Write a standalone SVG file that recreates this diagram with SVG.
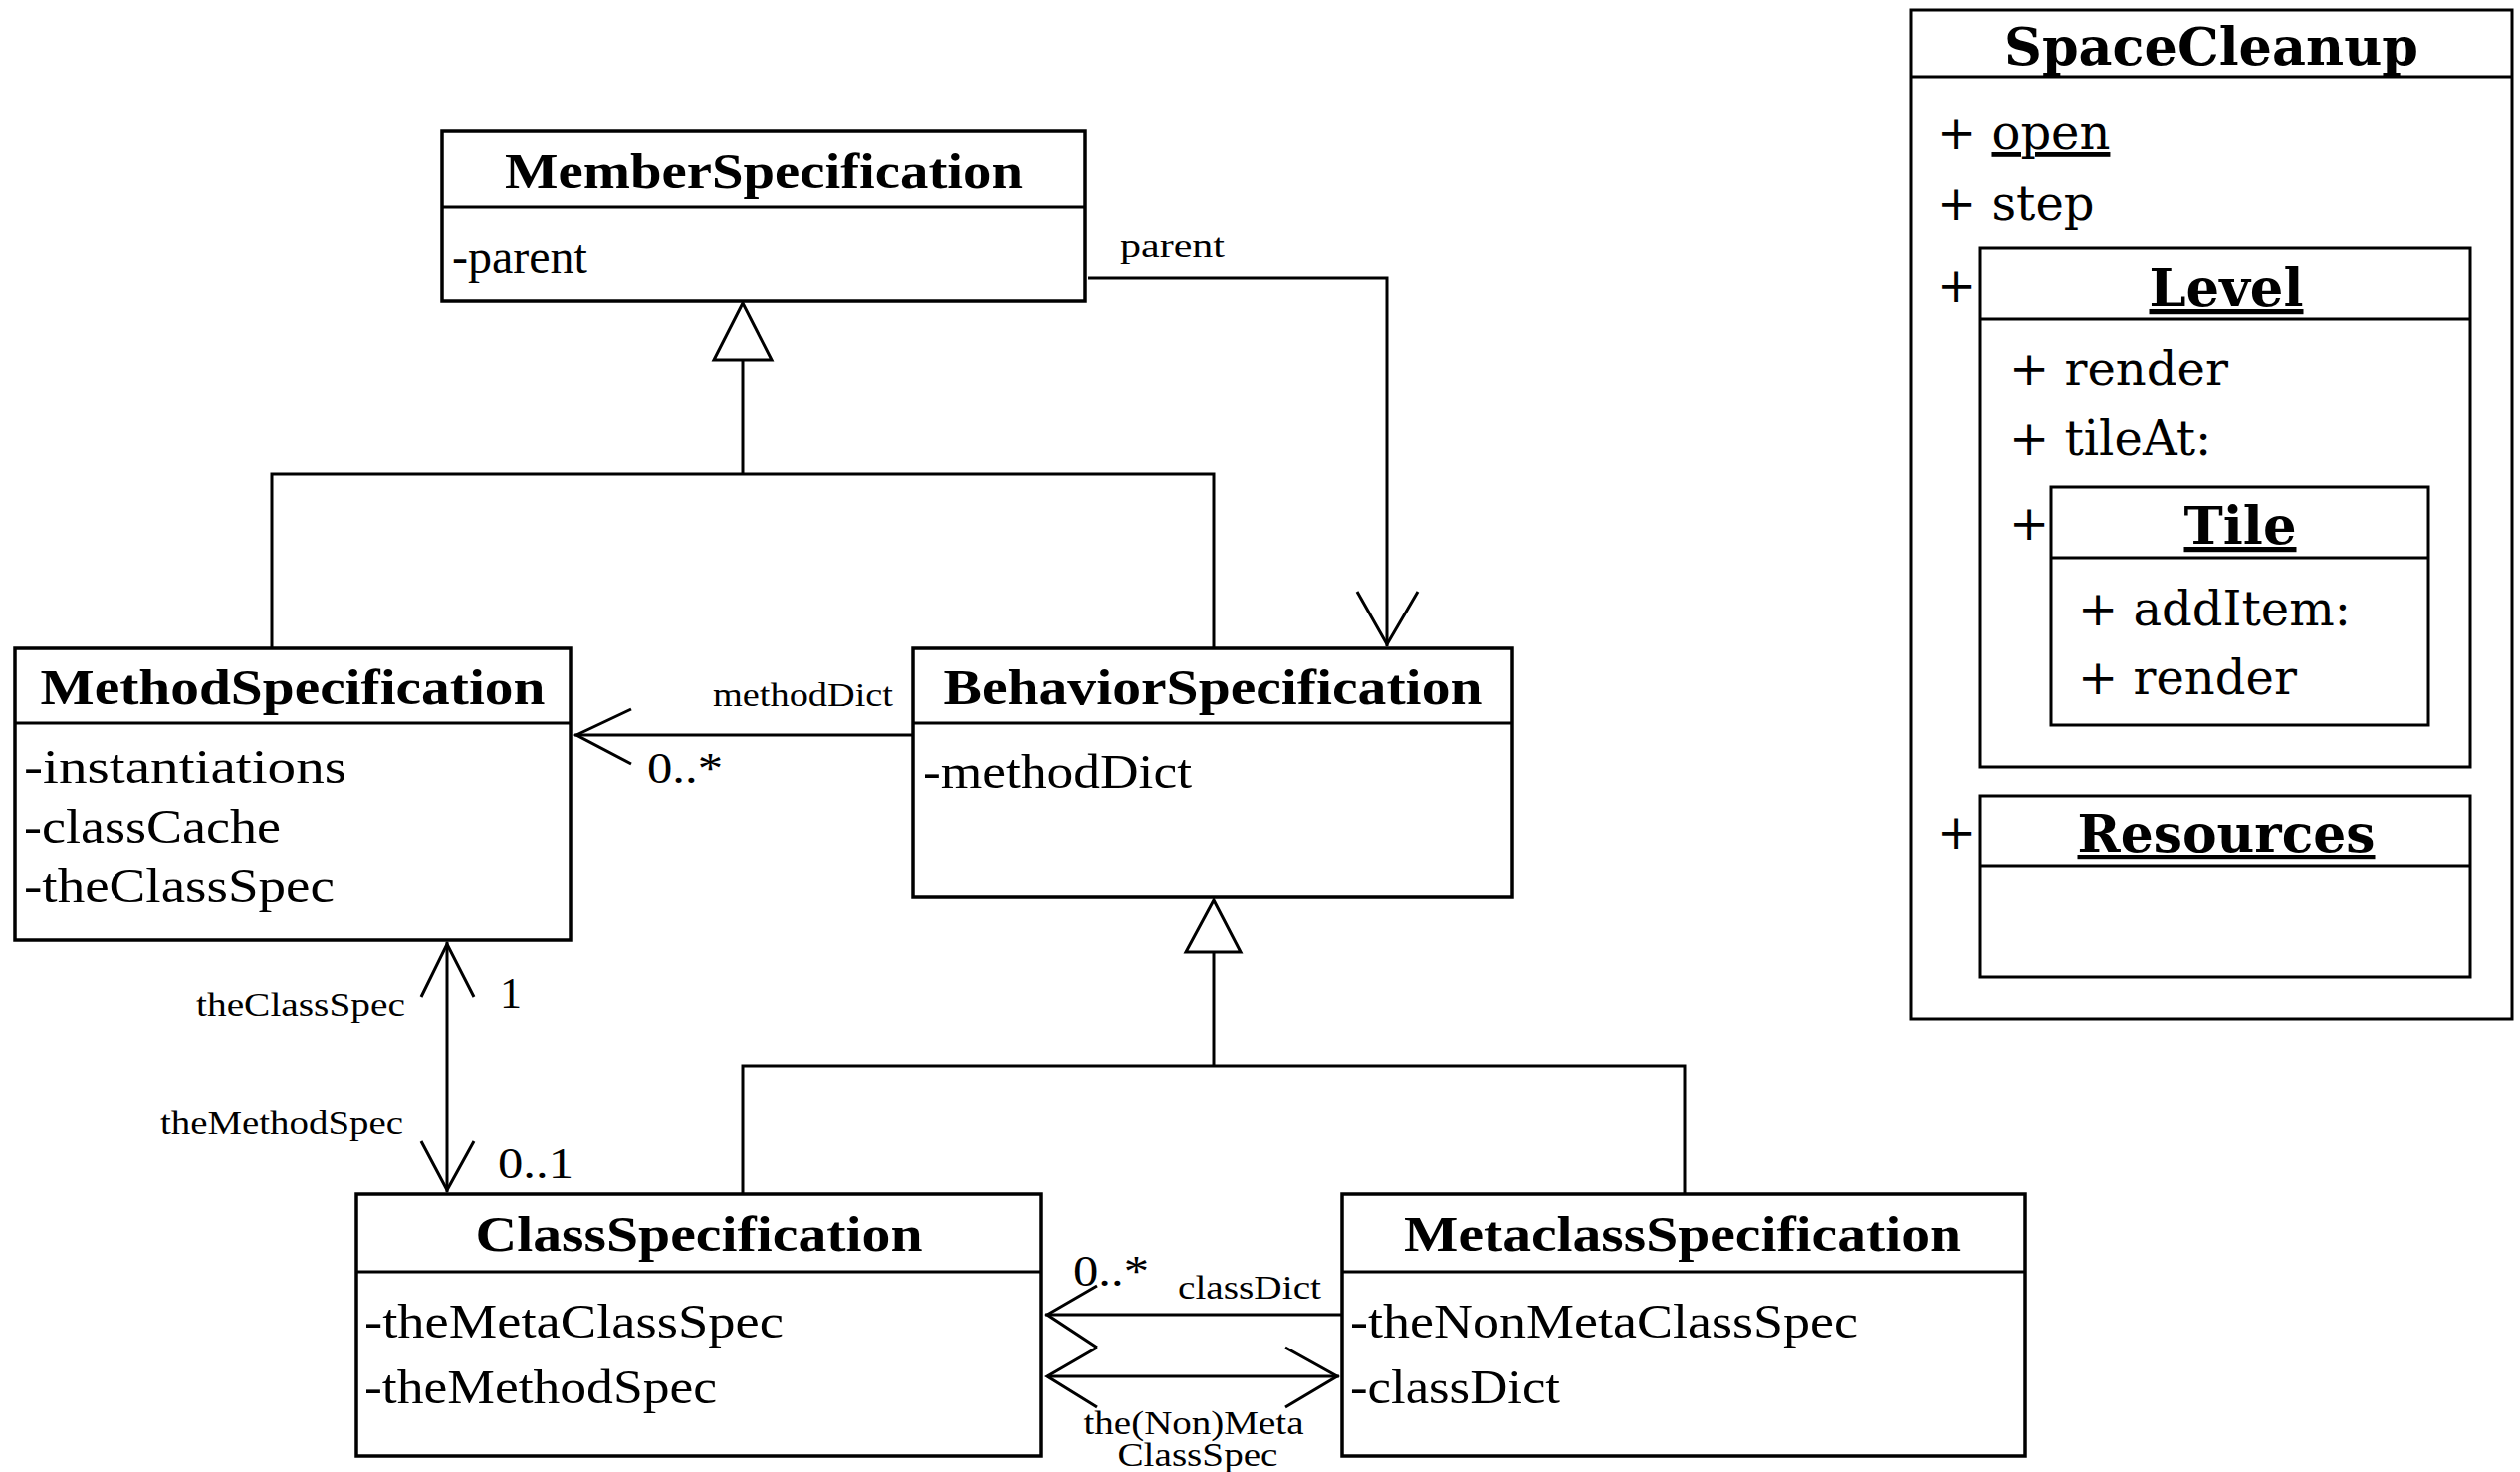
<svg xmlns="http://www.w3.org/2000/svg" width="2531" height="1478" viewBox="0 0 2531 1478">
<style>
.box{fill:#fff;stroke:#000;stroke-width:3.5}
.sep{stroke:#000;stroke-width:3}
.ln{fill:none;stroke:#000;stroke-width:3}
.tri{fill:#fff;stroke:#000;stroke-width:3}
.t{font-family:"Liberation Serif",serif;font-weight:bold;font-size:50px;text-anchor:middle}
.a{font-family:"Liberation Serif",serif;font-size:48px}
.l{font-family:"Liberation Serif",serif;font-size:34px}
.m{font-family:"Liberation Serif",serif;font-size:44px}
.st{font-family:"DejaVu Serif",serif;font-weight:bold;font-size:52px;text-anchor:middle}
.sa{font-family:"DejaVu Serif",serif;font-size:48px}
.nb{fill:#fff;stroke:#000;stroke-width:3}
</style>
<rect width="2531" height="1478" fill="#fff"/>
<g id="connectors">
  <!-- generalization to MemberSpecification -->
  <polyline class="ln" points="273,651 273,476 1219,476 1219,651"/>
  <line class="ln" x1="746" y1="476" x2="746" y2="361"/>
  <polygon class="tri" points="746,304 717,361 775,361"/>
  <!-- parent association -->
  <polyline class="ln" points="1093,279 1393,279 1393,649"/>
  <polyline class="ln" points="1363,594 1393,647 1424,594"/>
  <text class="l" x="1125" y="258" textLength="105" lengthAdjust="spacingAndGlyphs">parent</text>
  <!-- methodDict association -->
  <line class="ln" x1="917" y1="738" x2="577" y2="738"/>
  <polyline class="ln" points="634,712 579,738 634,767"/>
  <text class="l" x="897" y="709" text-anchor="end" textLength="181" lengthAdjust="spacingAndGlyphs">methodDict</text>
  <text class="m" x="650" y="786" textLength="76" lengthAdjust="spacingAndGlyphs">0..*</text>
  <!-- generalization to BehaviorSpecification -->
  <polyline class="ln" points="746,1199 746,1070 1692,1070 1692,1199"/>
  <line class="ln" x1="1219" y1="1070" x2="1219" y2="956"/>
  <polygon class="tri" points="1219,904 1191,956 1246,956"/>
  <!-- theClassSpec / theMethodSpec association -->
  <line class="ln" x1="449" y1="946" x2="449" y2="1197"/>
  <polyline class="ln" points="423,1001 449,948 476,1001"/>
  <polyline class="ln" points="423,1146 449,1195 476,1146"/>
  <text class="l" x="407" y="1020" text-anchor="end" textLength="210" lengthAdjust="spacingAndGlyphs">theClassSpec</text>
  <text class="m" x="502" y="1012">1</text>
  <text class="l" x="405" y="1139" text-anchor="end" textLength="244" lengthAdjust="spacingAndGlyphs">theMethodSpec</text>
  <text class="m" x="500" y="1183" textLength="76" lengthAdjust="spacingAndGlyphs">0..1</text>
  <!-- classDict association -->
  <line class="ln" x1="1348" y1="1320" x2="1050" y2="1320"/>
  <polyline class="ln" points="1102,1291 1052,1320 1102,1353"/>
  <text class="m" x="1078" y="1291" textLength="76" lengthAdjust="spacingAndGlyphs">0..*</text>
  <text class="l" x="1183" y="1304" textLength="144" lengthAdjust="spacingAndGlyphs">classDict</text>
  <!-- the(Non)MetaClassSpec association -->
  <line class="ln" x1="1052" y1="1382" x2="1345" y2="1382"/>
  <polyline class="ln" points="1102,1353 1052,1382 1102,1413"/>
  <polyline class="ln" points="1291,1353 1343,1382 1291,1413"/>
  <text class="l" x="1199" y="1440" text-anchor="middle" textLength="221" lengthAdjust="spacingAndGlyphs">the(Non)Meta</text>
  <text class="l" x="1203" y="1472" text-anchor="middle" textLength="161" lengthAdjust="spacingAndGlyphs">ClassSpec</text>
</g>
<g id="MemberSpecification">
  <rect class="box" x="444" y="132" width="646" height="170"/>
  <line class="sep" x1="444" y1="208" x2="1090" y2="208"/>
  <text class="t" x="767" y="189" textLength="520" lengthAdjust="spacingAndGlyphs">MemberSpecification</text>
  <text class="a" x="454" y="274">-parent</text>
</g>
<g id="MethodSpecification">
  <rect class="box" x="15" y="651" width="558" height="293"/>
  <line class="sep" x1="15" y1="726" x2="573" y2="726"/>
  <text class="t" x="294" y="707" textLength="507" lengthAdjust="spacingAndGlyphs">MethodSpecification</text>
  <text class="a" x="24" y="786" textLength="324" lengthAdjust="spacingAndGlyphs">-instantiations</text>
  <text class="a" x="24" y="846" textLength="258" lengthAdjust="spacingAndGlyphs">-classCache</text>
  <text class="a" x="24" y="906" textLength="312" lengthAdjust="spacingAndGlyphs">-theClassSpec</text>
</g>
<g id="BehaviorSpecification">
  <rect class="box" x="917" y="651" width="602" height="250"/>
  <line class="sep" x1="917" y1="726" x2="1519" y2="726"/>
  <text class="t" x="1218" y="707" textLength="541" lengthAdjust="spacingAndGlyphs">BehaviorSpecification</text>
  <text class="a" x="927" y="791" textLength="270" lengthAdjust="spacingAndGlyphs">-methodDict</text>
</g>
<g id="ClassSpecification">
  <rect class="box" x="358" y="1199" width="688" height="263"/>
  <line class="sep" x1="358" y1="1277" x2="1046" y2="1277"/>
  <text class="t" x="702" y="1256" textLength="449" lengthAdjust="spacingAndGlyphs">ClassSpecification</text>
  <text class="a" x="366" y="1343" textLength="421" lengthAdjust="spacingAndGlyphs">-theMetaClassSpec</text>
  <text class="a" x="366" y="1409" textLength="354" lengthAdjust="spacingAndGlyphs">-theMethodSpec</text>
</g>
<g id="MetaclassSpecification">
  <rect class="box" x="1348" y="1199" width="686" height="263"/>
  <line class="sep" x1="1348" y1="1277" x2="2034" y2="1277"/>
  <text class="t" x="1690" y="1256" textLength="560" lengthAdjust="spacingAndGlyphs">MetaclassSpecification</text>
  <text class="a" x="1356" y="1343" textLength="510" lengthAdjust="spacingAndGlyphs">-theNonMetaClassSpec</text>
  <text class="a" x="1356" y="1409" textLength="211" lengthAdjust="spacingAndGlyphs">-classDict</text>
</g>
<g id="SpaceCleanup">
  <rect class="nb" x="1919" y="10" width="604" height="1013"/>
  <line class="sep" x1="1919" y1="77" x2="2523" y2="77"/>
  <text class="st" x="2221" y="65" textLength="416" lengthAdjust="spacingAndGlyphs">SpaceCleanup</text>
  <text class="sa" x="1945" y="150">+ <tspan text-decoration="underline">open</tspan></text>
  <text class="sa" x="1945" y="221">+ step</text>
  <text class="sa" x="1945" y="303">+</text>
  <g id="Level">
    <rect class="nb" x="1989" y="249" width="492" height="521"/>
    <line class="sep" x1="1989" y1="320" x2="2481" y2="320"/>
    <text class="st" x="2236" y="307" text-decoration="underline" textLength="155" lengthAdjust="spacingAndGlyphs">Level</text>
    <text class="sa" x="2018" y="387">+ render</text>
    <text class="sa" x="2018" y="457">+ tileAt:</text>
    <text class="sa" x="2018" y="542">+</text>
    <g id="Tile">
      <rect class="nb" x="2060" y="489" width="379" height="239"/>
      <line class="sep" x1="2060" y1="560" x2="2439" y2="560"/>
      <text class="st" x="2250" y="546" text-decoration="underline" textLength="113" lengthAdjust="spacingAndGlyphs">Tile</text>
      <text class="sa" x="2087" y="628">+ addItem:</text>
      <text class="sa" x="2087" y="697">+ render</text>
    </g>
  </g>
  <text class="sa" x="1945" y="852">+</text>
  <g id="Resources">
    <rect class="nb" x="1989" y="799" width="492" height="182"/>
    <line class="sep" x1="1989" y1="870" x2="2481" y2="870"/>
    <text class="st" x="2236" y="855" text-decoration="underline" textLength="299" lengthAdjust="spacingAndGlyphs">Resources</text>
  </g>
</g>
</svg>
